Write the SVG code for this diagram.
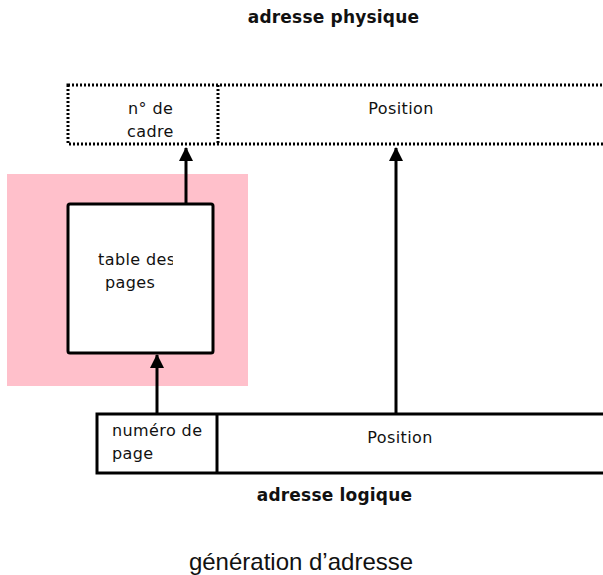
<svg xmlns="http://www.w3.org/2000/svg" width="603" height="575" viewBox="0 0 603 575">
<style>
.t{font-family:"DejaVu Sans",sans-serif;font-size:16px;fill:#111;letter-spacing:0.4px}
.b{font-family:"DejaVu Sans",sans-serif;font-size:17px;font-weight:bold;fill:#111;letter-spacing:0.2px}
.dot{fill:none;stroke:#000;stroke-width:3;stroke-dasharray:2 2}
.sol{fill:#fff;stroke:#000;stroke-width:3}
.con{fill:none;stroke:#000;stroke-width:3}
</style>
<defs>
<marker id="ah" markerWidth="14" markerHeight="14" viewBox="0 0 14 14" refX="13" refY="7" orient="auto" markerUnits="userSpaceOnUse">
<path d="M0,0 L14,7 L0,14 z" fill="#000"/>
</marker>
<clipPath id="clipTable"><rect x="70" y="207" width="103" height="140"/></clipPath>
</defs>
<rect id="bg" x="0" y="0" width="603" height="575" fill="#fff"/>
<g id="title">
<text class="b" x="333.5" y="23" text-anchor="middle">adresse physique</text>
</g>
<g id="physical">
<rect class="dot" x="68" y="85" width="550" height="59"/>
<line class="dot" x1="218" y1="85" x2="218" y2="144"/>
<text class="t" x="128" y="114">n° de</text>
<text class="t" x="127" y="137">cadre</text>
<text class="t" x="401" y="114" text-anchor="middle">Position</text>
</g>
<g id="mmu">
<rect x="7" y="174" width="241" height="212" fill="#ffc0cb"/>
</g>
<g id="table">
<rect class="sol" x="68" y="204" width="145" height="149" rx="2"/>
<g clip-path="url(#clipTable)">
<text class="t" x="98" y="265">table des</text>
<text class="t" x="105" y="288">pages</text>
</g>
</g>
<g id="logical">
<rect class="sol" x="97" y="414" width="520" height="59"/>
<line class="con" x1="217" y1="414" x2="217" y2="473"/>
<text class="t" x="112" y="436">numéro de</text>
<text class="t" x="112" y="459">page</text>
<text class="t" x="400" y="443" text-anchor="middle">Position</text>
</g>
<g id="label-logique">
<text class="b" x="334.5" y="501" text-anchor="middle">adresse logique</text>
</g>
<g id="caption">
<text x="301" y="570" text-anchor="middle" style="font-family:'Liberation Sans',sans-serif;font-size:24px;fill:#111">génération d’adresse</text>
</g>
<g id="connectors">
<line class="con" x1="186" y1="204" x2="186" y2="148" marker-end="url(#ah)"/>
<line class="con" x1="396" y1="413" x2="396" y2="148" marker-end="url(#ah)"/>
<line class="con" x1="157" y1="413" x2="157" y2="355" marker-end="url(#ah)"/>
</g>
</svg>
